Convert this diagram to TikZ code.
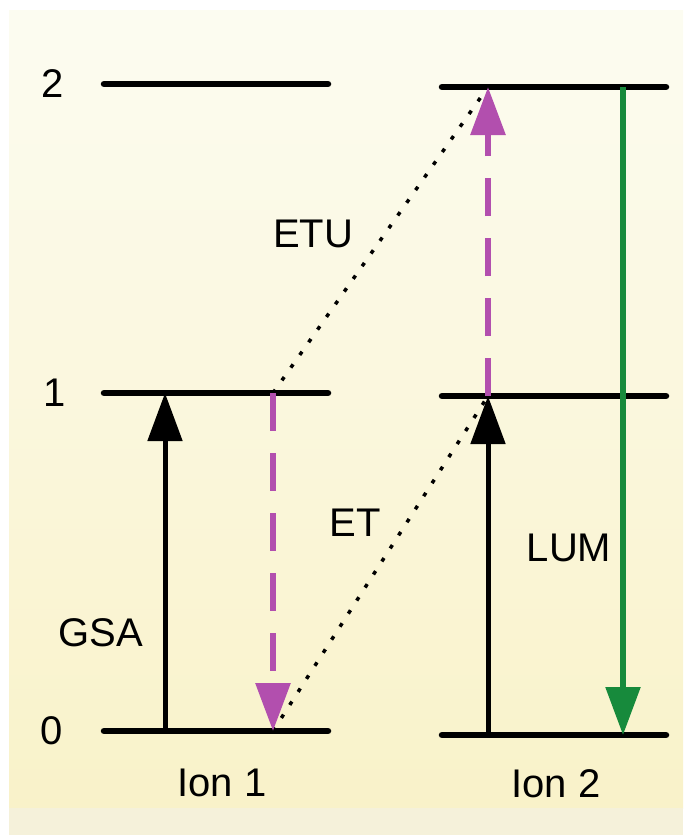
\documentclass[tikz,border=0pt]{standalone}
\usepackage{fontspec}
\setmainfont{Liberation Sans}
\usetikzlibrary{arrows.meta}
\definecolor{bgtop}{HTML}{FCFCF1}
\definecolor{bgbot}{HTML}{F9F2C9}
\definecolor{bgband}{HTML}{F5F1DA}
\definecolor{pinkarrow}{HTML}{B24FAE}
\definecolor{greenarrow}{HTML}{178A3C}
\tikzset{
  level/.style={line width=6.5pt, line cap=round},
  lbl/.style={font=\fontsize{40}{40}\selectfont, inner sep=0pt},
  tip/.style={-{Triangle[length=48pt,width=34pt]}},
  absorb/.style={tip, line width=5pt, black},
  transfer/.style={tip, line width=6pt, pinkarrow, dash pattern=on 38pt off 22pt},
  emit/.style={tip, line width=5.5pt, greenarrow},
  dots/.style={line width=3.5pt, dash pattern=on 4pt off 11.5pt}
}
\begin{document}
\begin{tikzpicture}[x=1pt,y=-1pt]
\useasboundingbox (0,0) rectangle (683,835);
\fill[white] (0,0) rectangle (683,835);
\shade[top color=bgtop, bottom color=bgbot] (9,10) rectangle (683,808);
\fill[bgband] (9,808) rectangle (683,835);
% level coordinates
\coordinate (a2l) at (104,84);  \coordinate (a2r) at (328,84);
\coordinate (a1l) at (104,393); \coordinate (a1r) at (328,393);
\coordinate (a0l) at (104,731); \coordinate (a0r) at (328,731);
\coordinate (b2l) at (442,87);  \coordinate (b2r) at (666,87);
\coordinate (b1l) at (442,396); \coordinate (b1r) at (666,396);
\coordinate (b0l) at (442,735); \coordinate (b0r) at (666,735);
\draw[level] (a2l) -- (a2r);
\draw[level] (a1l) -- (a1r);
\draw[level] (a0l) -- (a0r);
\draw[level] (b2l) -- (b2r);
\draw[level] (b1l) -- (b1r);
\draw[level] (b0l) -- (b0r);
% arrow endpoints
\coordinate (gsa0) at (165,731); \coordinate (gsa1) at (165,393);
\coordinate (d1) at (273,393);   \coordinate (d0) at (273,731);
\coordinate (u0) at (488,735);   \coordinate (u1) at (488,396);
\coordinate (u2) at (488,87);
\coordinate (g2) at (623,87);    \coordinate (g0) at (623,735);
\draw[dots] (d0) -- (u1);
\draw[dots] (d1) -- (u2);
\draw[absorb] (gsa0) -- (gsa1);
\draw[absorb] (u0) -- (u1);
\draw[transfer] (d1) -- (d0);
\draw[transfer] (u1) -- (u2);
\draw[emit] (g2) -- (g0);
% labels
\node[lbl] (n2) at (53,84) {2};
\node[lbl] (n1) at (55,393) {1};
\node[lbl] (n0) at (52,731) {0};
\node[lbl] (etu) at (313,234) {ETU};
\node[lbl] (et) at (355,523) {ET};
\node[lbl] (lum) at (569,548) {LUM};
\node[lbl] (gsa) at (101,633) {GSA};
\node[lbl] (ion1) at (222,783) {Ion 1};
\node[lbl] (ion2) at (556,784) {Ion 2};
\end{tikzpicture}
\end{document}
